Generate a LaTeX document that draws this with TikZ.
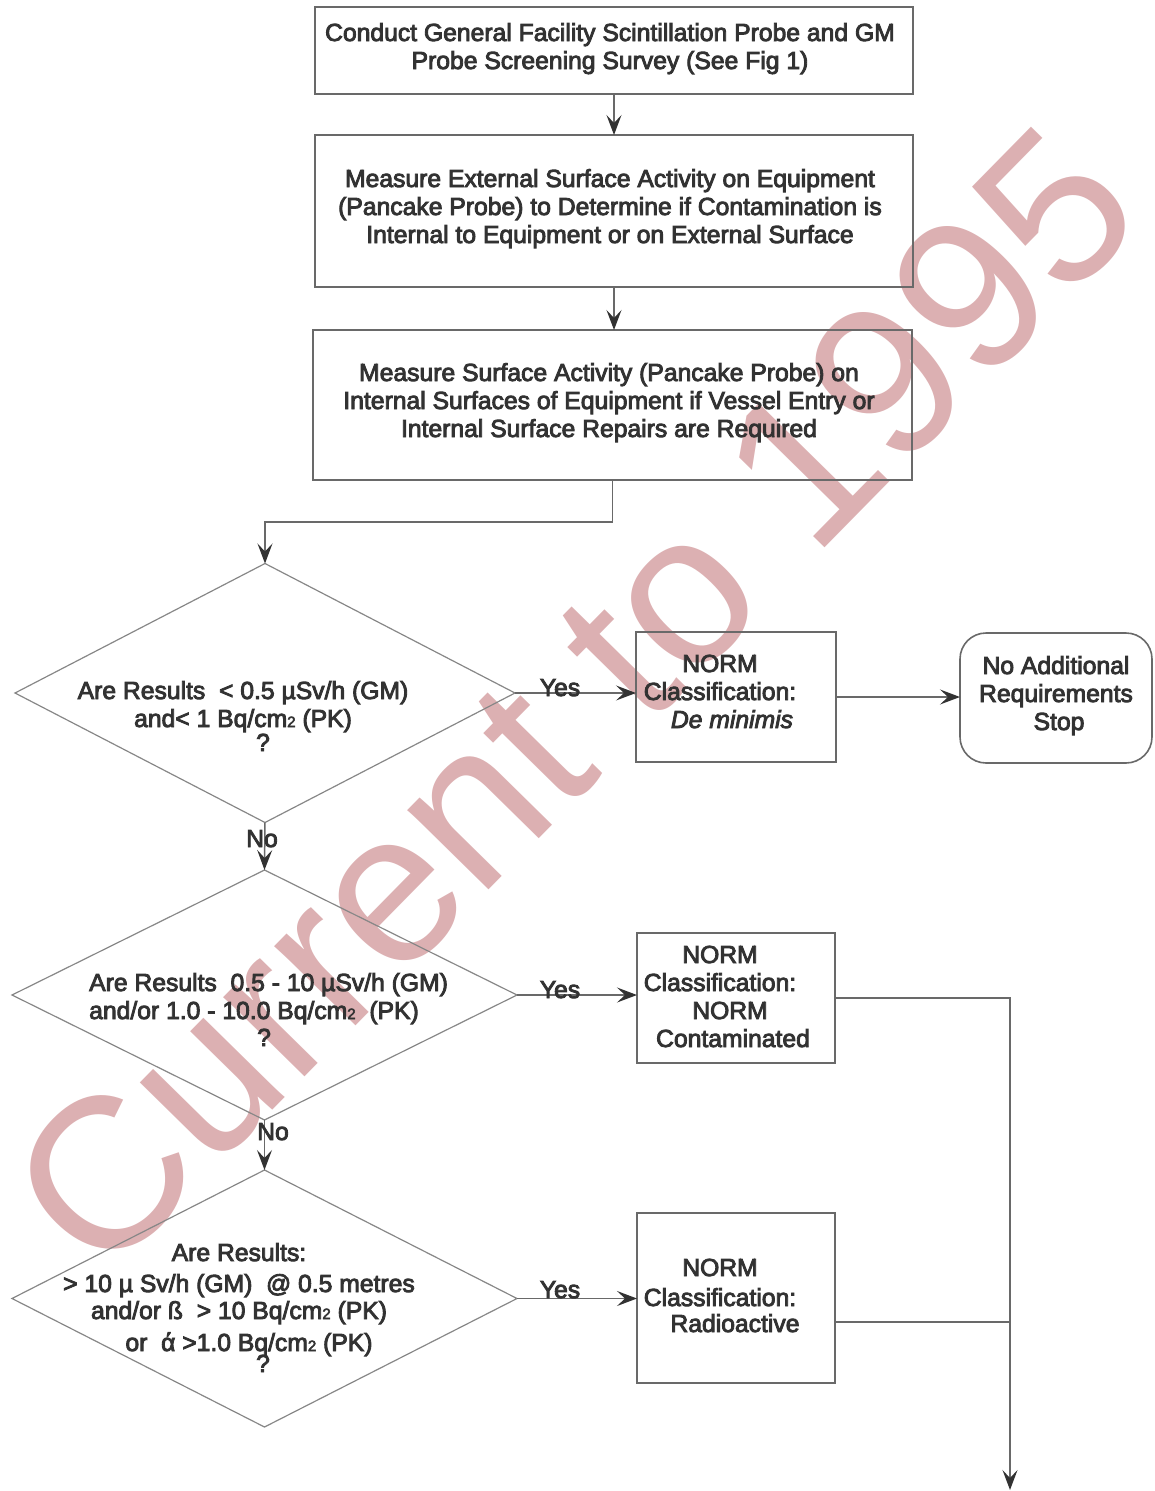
\documentclass[tikz,border=0pt]{standalone}
\usepackage{fontspec}
\setmainfont{Liberation Sans}
\newfontfamily\chartfont{Liberation Sans}[FakeBold=3.5]
\usetikzlibrary{shapes.geometric,arrows.meta}
\definecolor{inkc}{RGB}{50,50,50}
\definecolor{linec}{RGB}{105,105,105}
\definecolor{diamc}{RGB}{135,135,135}
\definecolor{markc}{RGB}{220,176,178}
\newcommand\cmtwo{{\fontsize{15}{15}\selectfont 2}}

\begin{document}
\begin{tikzpicture}[x=1pt,y=-1pt,
  txt/.style={font=\chartfont\fontsize{24.7}{28}\selectfont, text=inkc, inner sep=0pt, align=center, anchor=base},
  stepbox/.style={draw=linec, line width=1.6pt, rectangle, inner sep=0pt, outer sep=0pt},
  endbox/.style={stepbox, rounded corners=26pt},
  decision/.style={draw=diamc, line width=1.2pt, diamond, inner sep=0pt, outer sep=0pt},
  conn/.style={draw=linec, line width=1.5pt},
  flow/.style={conn, -{Stealth[length=20pt,width=15pt,inset=8pt,color=inkc]}},
  ans/.style={txt, anchor=base}
]
\useasboundingbox (0,0) rectangle (1155,1491);

% watermark behind the chart
\node[rotate=45.5, text=markc, inner sep=0pt, font=\fontsize{215}{215}\selectfont] (mark) at (573,699) {Current to 1995};

% process boxes
\node[stepbox, minimum width=598pt, minimum height=87pt] (b1) at (614,50.5) {};
\node[stepbox, minimum width=598pt, minimum height=152pt] (b2) at (614,211) {};
\node[stepbox, minimum width=599pt, minimum height=150pt] (b3) at (612.5,405) {};

\node[txt] (t1) at (610,69) {Conduct General Facility Scintillation Probe and GM\\Probe Screening Survey (See Fig 1)};
\node[txt] (t2) at (610,243) {Measure External Surface Activity on Equipment\\(Pancake Probe) to Determine if Contamination is\\Internal to Equipment or on External Surface};
\node[txt] (t3) at (609,437) {Measure Surface Activity (Pancake Probe) on\\Internal Surfaces of Equipment if Vessel Entry or\\Internal Surface Repairs are Required};

% decisions
\node[decision, minimum width=500pt, minimum height=259pt] (d1) at (265,693) {};
\node[decision, minimum width=505pt, minimum height=250pt] (d2) at (264.5,995) {};
\node[decision, minimum width=505pt, minimum height=257pt] (d3) at (264.5,1298.5) {};

\node[txt] (q1) at (243,751) {Are Results\ \ {<} 0.5 µSv/h (GM)\\and{<} 1 Bq/cm\cmtwo{} (PK)\\[-4pt]\hspace*{40pt}?};
\node[txt, align=left, anchor=base west] (q2) at (89,1046) {Are Results\ \ 0.5 - 10 µSv/h (GM)\\and/or 1.0 - 10.0 Bq/cm\cmtwo\ \ (PK)\\[-1pt]\hspace*{168pt}?};
\node[txt] (q3) at (239,1372) {Are Results:\\[3pt]{>} 10 µ Sv/h (GM)\ \ @ 0.5 metres\hspace*{18pt}\\[-1pt]and/or ß\ \ {>} 10 Bq/cm\cmtwo{} (PK)\\[4pt]\hspace*{20pt}or\ \ ά {>}1.0 Bq/cm\cmtwo{} (PK)\\[-7pt]\hspace*{48pt}?};

% outcome boxes
\node[stepbox, minimum width=200pt, minimum height=130pt] (b4) at (736,697) {};
\node[stepbox, minimum width=198pt, minimum height=130pt] (b5) at (736,998) {};
\node[stepbox, minimum width=198pt, minimum height=170pt] (b6) at (736,1298) {};
\node[endbox, minimum width=192pt, minimum height=130pt] (stop) at (1056,698) {};

\node[txt] (t4) at (720,728) {NORM\\Classification:\\\hspace*{24pt}\textit{De minimis}};
\node[txt] (t5) at (720,1047) {NORM\\Classification:\\\hspace*{20pt}NORM\\\hspace*{26pt}Contaminated};
\node[txt] (t6) at (720,1332) {NORM\\[2pt]Classification:\\[-2pt]\hspace*{30pt}Radioactive};
\node[txt] (t7) at (1056,730) {No Additional\\Requirements\\\hspace*{6pt}Stop};

% connectors
\coordinate (endpt) at (1010,1490);
\draw[flow] (b1.south) -- (b2.north);
\draw[flow] (b2.south) -- (b2.south |- b3.north);
\draw[flow] (b3.south) -- ++(0,42) -| (d1.north);
\draw[flow] (d1.east) -- (d1.east -| b4.west);
\draw[flow] (b4.east) -- (b4.east -| stop.west);
\draw[flow] (d1.south) -- (d2.north);
\draw[flow] (d2.east) -- (d2.east -| b5.west);
\draw[flow] (d2.south) -- (d3.north);
\draw[flow] (d3.east) -- (d3.east -| b6.west);
\draw[flow] (b5.east) -- (b5.east -| endpt) -- (endpt);
\draw[conn] ([yshift=-24pt]b6.east) -- ([yshift=-24pt]b6.east -| endpt);

% branch labels
\node[ans] (y1) at (560,696) {Yes};
\node[ans] (y2) at (560,998) {Yes};
\node[ans] (y3) at (560,1298) {Yes};
\node[ans] (n1) at (262,847) {No};
\node[ans] (n2) at (273,1140) {No};
\end{tikzpicture}
\end{document}
